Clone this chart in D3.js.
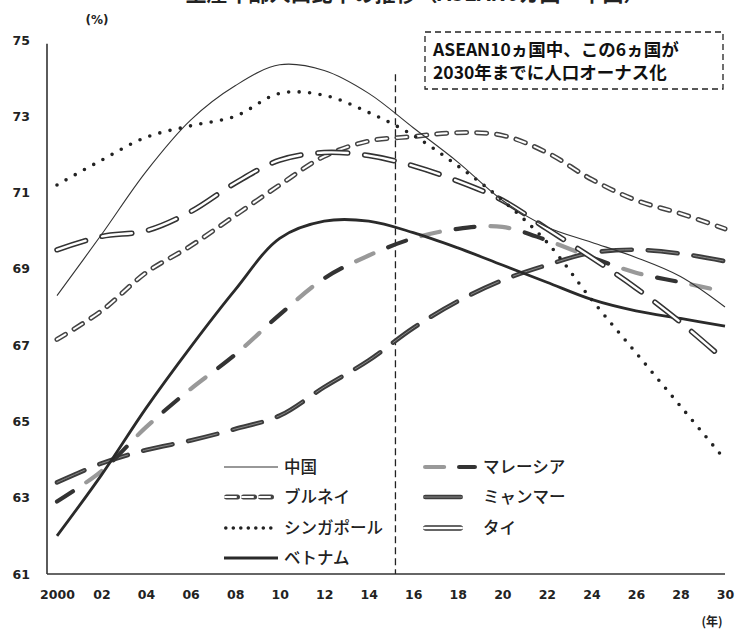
<!DOCTYPE html>
<html lang="ja">
<head>
<meta charset="utf-8">
<script src="https://cdn.jsdelivr.net/npm/d3@7"></script>
<style>
  html, body { margin: 0; padding: 0; background: #fff; }
  svg { display: block; }
</style>
</head>
<body>
<svg id="chart" width="735" height="631"></svg>
<script>
// Working-age population share (%), 2000-2030
const years = [2000, 2002, 2004, 2006, 2008, 2010, 2012, 2014, 2016, 2018, 2020, 2022, 2024, 2026, 2028, 2030];
const china     = [68.3, 69.9, 71.55, 72.9, 73.8, 74.35, 74.2, 73.6, 72.7, 71.8, 70.8, 70.1, 69.7, 69.3, 68.8, 68.0];
const brunei    = [67.15, 67.9, 68.9, 69.6, 70.4, 71.2, 71.95, 72.35, 72.47, 72.57, 72.5, 72.05, 71.35, 70.8, 70.45, 70.05];
const singapore = [71.2, 71.85, 72.45, 72.75, 73.0, 73.6, 73.55, 73.1, 72.5, 71.7, 70.8, 69.7, 68.2, 66.8, 65.4, 64.0];
const vietnam   = [62.0, 63.6, 65.35, 66.95, 68.45, 69.8, 70.25, 70.25, 69.95, 69.55, 69.1, 68.65, 68.2, 67.9, 67.7, 67.5];
const malaysia  = [62.9, 63.7, 64.85, 65.85, 66.75, 67.8, 68.75, 69.35, 69.8, 70.05, 70.1, 69.75, 69.3, 68.9, 68.65, 68.4];
const myanmar   = [63.4, 63.9, 64.25, 64.5, 64.8, 65.15, 65.9, 66.6, 67.45, 68.15, 68.7, 69.1, 69.42, 69.5, 69.4, 69.2];
const thailand  = [69.5, 69.85, 70.0, 70.5, 71.25, 71.85, 72.05, 71.97, 71.7, 71.3, 70.8, 70.05, 69.3, 68.5, 67.6, 66.6];

const yTicks = [61, 63, 65, 67, 69, 71, 73, 75];
const xTickLabels = ["2000", "02", "04", "06", "08", "10", "12", "14", "16", "18", "20", "22", "24", "26", "28", "30"];
const dividerYear = 2015.2;   // boundary between estimates and projections

const titleText = "生産年齢人口比率の推移（ASEAN6カ国・中国）";
const noteLines = ["ASEAN10ヵ国中、この6ヵ国が", "2030年までに人口オーナス化"];
const yUnit = "(%)";
const xUnit = "(年)";

// ---- layout ----
const svg = d3.select("#chart");
const x = d3.scaleLinear().domain([2000, 2030]).range([57, 725]);
const y = d3.scaleLinear().domain([61, 75]).range([574, 40]);

const numFont = "'DejaVu Sans', Verdana, sans-serif";
const jpFont = "'Noto Sans CJK JP', 'Noto Sans', sans-serif";

// title (runs off the top edge of the page)
svg.append("text")
  .attr("x", 415).attr("y", 1)
  .attr("text-anchor", "middle")
  .attr("font-family", jpFont).attr("font-weight", 700)
  .attr("font-size", 21).attr("fill", "#222")
  .text(titleText);

// axes
const yAxis = d3.axisLeft(y).tickValues(yTicks).tickSize(0).tickPadding(17).tickFormat(d3.format("d"));
const gy = svg.append("g").attr("transform", "translate(47,0)").call(yAxis);
gy.select(".domain").attr("d", `M0,${y(74.9)}V${y(61)}`).attr("stroke", "#333").attr("stroke-width", 1.6);
gy.selectAll("text").attr("font-family", numFont).attr("font-weight", 700).attr("font-size", 12.5).attr("fill", "#222");

const xAxis = d3.axisBottom(x).tickValues(years).tickSize(0).tickPadding(16)
  .tickFormat((d, i) => xTickLabels[i]);
const gx = svg.append("g").attr("transform", `translate(0,${y(61)})`).call(xAxis);
gx.select(".domain").attr("d", `M47,0H${x(2030)}`).attr("stroke", "#333").attr("stroke-width", 1.6);
gx.selectAll("text").attr("font-family", numFont).attr("font-weight", 700).attr("font-size", 12.5).attr("fill", "#222");

svg.append("text").attr("x", 97).attr("y", 24).attr("text-anchor", "middle")
  .attr("font-family", numFont).attr("font-weight", 700).attr("font-size", 12).attr("fill", "#222")
  .text(yUnit);
svg.append("text").attr("x", 712).attr("y", 626).attr("text-anchor", "middle")
  .attr("font-family", jpFont).attr("font-weight", 700).attr("font-size", 12).attr("fill", "#222")
  .text(xUnit);

// divider line
svg.append("line")
  .attr("x1", x(dividerYear)).attr("x2", x(dividerYear))
  .attr("y1", y(74.1)).attr("y2", y(61))
  .attr("stroke", "#222").attr("stroke-width", 1.3).attr("stroke-dasharray", "7 4");

// annotation box
const box = svg.append("g");
box.append("rect").attr("x", 425).attr("y", 32).attr("width", 298).attr("height", 57)
  .attr("fill", "#fff").attr("stroke", "#222").attr("stroke-width", 1.3).attr("stroke-dasharray", "6 4");
noteLines.forEach((t, i) => {
  box.append("text").attr("x", 433).attr("y", 56 + i * 23)
    .attr("font-family", jpFont).attr("font-weight", 700).attr("font-size", 17.5).attr("fill", "#111")
    .text(t);
});

// ---- series ----
const line = d3.line().x((d, i) => x(years[i])).y(d => y(d)).curve(d3.curveCatmullRom.alpha(0.5));

// stroke layers per style; each layer is drawn on the same path geometry
const styles = {
  "中国":       [{ stroke: "#333", width: 1.1 }],
  "ブルネイ":   [{ stroke: "#444", width: 5, dash: "10 10", cap: "round" },
                 { stroke: "#fff", width: 2, dash: "10 10", cap: "round" }],
  "シンガポール": [{ stroke: "#222", width: 3.6, dash: "0 10.5", cap: "round" }],
  "ベトナム":   [{ stroke: "#2a2a2a", width: 2.8 }],
  "マレーシア": [{ stroke: "#333", width: 4.2, dash: "19 51", cap: "round" },
                 { stroke: "#999", width: 4.2, dash: "19 51", offset: -35, cap: "round" }],
  "ミャンマー": [{ stroke: "#3c3c3c", width: 4.6, dash: "30 16", cap: "round" },
                 { stroke: "#8a8a8a", width: 1, dash: "30 16", cap: "round" }],
  "タイ":       [{ stroke: "#333", width: 5.5, dash: "30 17", cap: "round" },
                 { stroke: "#fff", width: 2.4, dash: "30 17", cap: "round" }]
};

const seriesData = {
  "中国": china, "ブルネイ": brunei, "シンガポール": singapore, "ベトナム": vietnam,
  "マレーシア": malaysia, "ミャンマー": myanmar, "タイ": thailand
};

const drawOrder = ["ミャンマー", "マレーシア", "ベトナム", "ブルネイ", "タイ", "シンガポール", "中国"];
const gLines = svg.append("g").attr("fill", "none");
drawOrder.forEach(name => {
  const d = line(seriesData[name]);
  styles[name].forEach(s => {
    gLines.append("path").attr("d", d)
      .attr("stroke", s.stroke).attr("stroke-width", s.width)
      .attr("stroke-dasharray", s.dash || null)
      .attr("stroke-dashoffset", s.offset || 0)
      .attr("stroke-linecap", s.cap || "butt")
      .attr("stroke-linejoin", "round");
  });
});

// ---- legend ----
const legendItems = [
  { name: "中国", x0: 224, x1: 278, y: 467 },
  { name: "ブルネイ", x0: 224, x1: 278, y: 497 },
  { name: "シンガポール", x0: 224, x1: 278, y: 528 },
  { name: "ベトナム", x0: 224, x1: 278, y: 558 },
  { name: "マレーシア", x0: 423, x1: 477, y: 467 },
  { name: "ミャンマー", x0: 423, x1: 463, y: 497 },
  { name: "タイ", x0: 423, x1: 463, y: 528 }
];
const legendDash = {
  "ブルネイ": "11 6",
  "シンガポール": "0 7.5",
  "ミャンマー": null,
  "タイ": null
};
const gLeg = svg.append("g");
legendItems.forEach(it => {
  styles[it.name].forEach(s => {
    const p = gLeg.append("line")
      .attr("x1", it.x0 + (s.cap === "round" ? s.width / 2 : 0))
      .attr("x2", it.x1 - (s.cap === "round" ? s.width / 2 : 0))
      .attr("y1", it.y).attr("y2", it.y)
      .attr("stroke", s.stroke).attr("stroke-width", s.width)
      .attr("stroke-linecap", s.cap || "butt");
    if (it.name === "マレーシア") {
      // grey dash followed by a dark dash
      p.attr("stroke-dasharray", "19 100").attr("stroke-dashoffset", s.stroke === "#999" ? 0 : -34);
    } else {
      const dash = it.name in legendDash ? legendDash[it.name] : (s.dash || null);
      if (dash) p.attr("stroke-dasharray", dash);
    }
  });
  gLeg.append("text")
    .attr("x", it.x0 < 300 ? 284 : 483).attr("y", it.y + 6)
    .attr("font-family", jpFont).attr("font-weight", 500).attr("font-size", 16.5).attr("fill", "#222")
    .text(it.name);
});
</script>
</body>
</html>
